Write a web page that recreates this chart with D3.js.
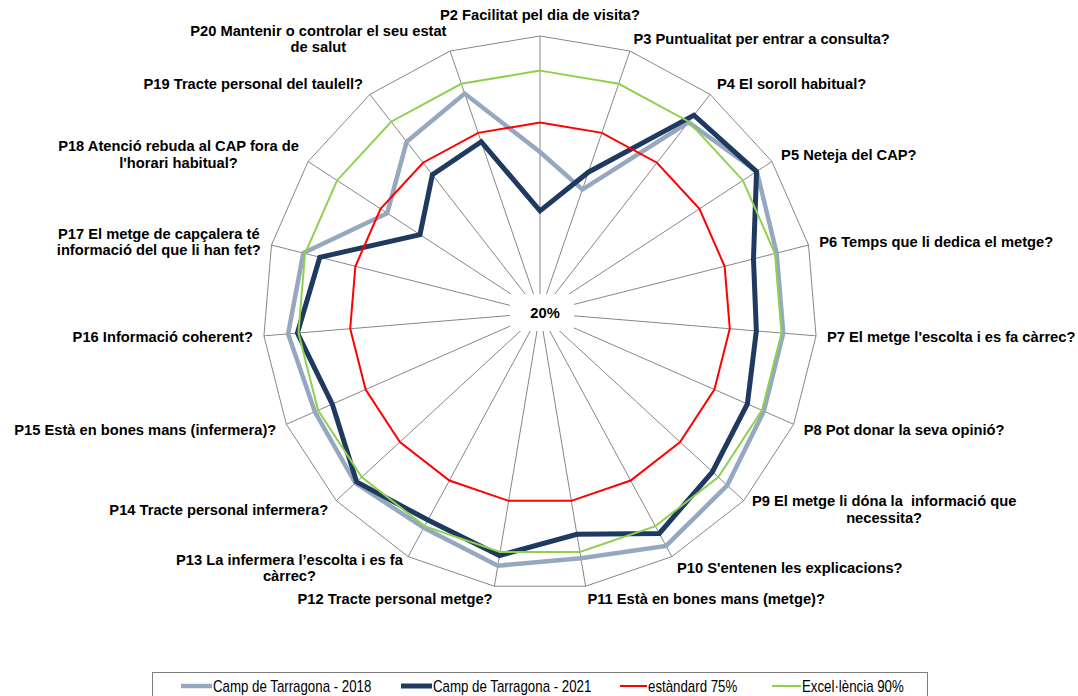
<!DOCTYPE html>
<html>
<head>
<meta charset="utf-8">
<script src="https://cdn.jsdelivr.net/npm/d3@7"></script>
<style>
  html, body { margin: 0; padding: 0; background: #ffffff; }
  svg { display: block; }
  .axis-label { font-family: "Liberation Sans", Arial, sans-serif; font-weight: bold; font-size: 14.7px; fill: #000; white-space: pre; }
  .legend-text { font-family: "Liberation Sans", Arial, sans-serif; font-size: 16px; fill: #000; }
</style>
</head>
<body>
<svg id="chart" width="1078" height="696"></svg>
<script>
// Survey questions (one spoke each), wrapped as drawn
const questions = [
  ["P2 Facilitat pel dia de visita?"],
  ["P3 Puntualitat per entrar a consulta?"],
  ["P4 El soroll habitual?"],
  ["P5 Neteja del CAP?"],
  ["P6 Temps que li dedica el metge?"],
  ["P7 El metge l'escolta i es fa càrrec?"],
  ["P8 Pot donar la seva opinió?"],
  ["P9 El metge li dóna la  informació que", "necessita?"],
  ["P10 S'entenen les explicacions?"],
  ["P11 Està en bones mans (metge)?"],
  ["P12 Tracte personal metge?"],
  ["P13 La infermera l\u2019escolta i es fa", "càrrec?"],
  ["P14 Tracte personal infermera?"],
  ["P15 Està en bones mans (infermera)?"],
  ["P16 Informació coherent?"],
  ["P17 El metge de capçalera té", "informació del que li han fet?"],
  ["P18 Atenció rebuda al CAP fora de", "l'horari habitual?"],
  ["P19 Tracte personal del taulell?"],
  ["P20 Mantenir o controlar el seu estat", "de salut"]
];

// Percentage of satisfied answers per question
const camp2018 = [66.5, 57.7, 89.8, 94.8, 90.5, 90.5, 90.6, 93.5, 96.5, 91.8, 94.0, 90.5, 92.5, 91.0, 93.0, 90.5, 72.7, 82.7, 87.0];
const camp2021 = [49.5, 63.0, 92.4, 94.7, 83.6, 82.7, 85.4, 87.7, 92.4, 84.8, 91.0, 88.0, 92.0, 85.5, 90.3, 85.6, 61.4, 70.6, 72.3];
const standard75 = [75, 75, 75, 75, 75, 75, 75, 75, 75, 75, 75, 75, 75, 75, 75, 75, 75, 75, 75];
const excellence90 = [90, 90, 90, 90, 90, 90, 90, 90, 90, 90, 90, 90, 90, 90, 90, 90, 90, 90, 90];

// Radial axis range and its label
const radialDomain = [20, 100];
const radialTickLabel = "20%";

// Legend entries
const seriesNames = ["Camp de Tarragona - 2018", "Camp de Tarragona - 2021", "estàndard 75%", "Excel·lència 90%"];

const seriesList = [
  { name: seriesNames[0], values: camp2018, color: "#95a8bf", width: 4.5 },
  { name: seriesNames[1], values: camp2021, color: "#1f3a60", width: 5 },
  { name: seriesNames[2], values: standard75, color: "#ff0000", width: 2 },
  { name: seriesNames[3], values: excellence90, color: "#8fd14f", width: 2 }
];

const svg = d3.select("#chart");
const cx = 540, cy = 313, R = 277;
const n = questions.length;

const r = d3.scaleLinear().domain(radialDomain).range([0, R]);
const angle = d3.scaleLinear().domain([0, n]).range([0, 2 * Math.PI]);

const g = svg.append("g").attr("transform", `translate(${cx},${cy})`);

const pointAt = (i, radius) => [radius * Math.sin(angle(i)), -radius * Math.cos(angle(i))];

// Spokes
g.append("g").selectAll("line")
  .data(questions)
  .join("line")
  .attr("x1", 0).attr("y1", 0)
  .attr("x2", (d, i) => pointAt(i, R)[0])
  .attr("y2", (d, i) => pointAt(i, R)[1])
  .attr("stroke", "#878787")
  .attr("stroke-width", 1);

// Outer ring
const radial = d3.lineRadial()
  .angle((d, i) => angle(i))
  .radius(d => r(d))
  .curve(d3.curveLinearClosed);

g.append("path")
  .attr("d", radial(questions.map(() => radialDomain[1])))
  .attr("fill", "none")
  .attr("stroke", "#878787")
  .attr("stroke-width", 1);

// Series lines
g.append("g").selectAll("path")
  .data(seriesList)
  .join("path")
  .attr("d", s => radial(s.values))
  .attr("fill", "none")
  .attr("stroke", s => s.color)
  .attr("stroke-width", s => s.width)
  .attr("stroke-linejoin", "miter");

// Centre tick label on a white box
g.append("rect")
  .attr("x", -30).attr("y", -19).attr("width", 64).attr("height", 37)
  .attr("fill", "#ffffff");
g.append("text")
  .attr("class", "axis-label")
  .attr("x", 5).attr("y", 0)
  .attr("dy", "0.35em")
  .attr("text-anchor", "middle")
  .text(radialTickLabel);

// Question labels around the ring
const lineH = 16.5;
const labels = g.append("g");
questions.forEach((lines, i) => {
  const a = angle(i);
  const s = Math.sin(a), c = Math.cos(a);
  const [vx, vy] = pointAt(i, R);
  const ax = vx + 11 * s;
  let ay = vy - 13 * c;
  const side = Math.abs(s) < 0.05 ? "middle" : (s > 0 ? "start" : "end");
  const blockH = lines.length * lineH;
  if (side === "middle") ay = vy - 13 - blockH / 2;
  const grp = labels.append("g");
  const texts = lines.map((t, k) => grp.append("text")
    .attr("class", "axis-label")
    .attr("text-anchor", "middle")
    .attr("y", ay - (lines.length - 1) * lineH / 2 + k * lineH)
    .attr("dy", "0.35em")
    .text(t));
  const w = d3.max(texts, t => t.node().getComputedTextLength());
  const mid = side === "middle" ? ax : (side === "start" ? ax + w / 2 : ax - w / 2);
  texts.forEach(t => t.attr("x", mid));
});

// Legend (condensed text)
const legend = svg.append("g");
legend.append("rect")
  .attr("x", 152.5).attr("y", 672.5).attr("width", 775).attr("height", 30)
  .attr("fill", "#ffffff")
  .attr("stroke", "#7f7f7f")
  .attr("stroke-width", 1);

const legendX = d3.scaleOrdinal().domain(seriesNames).range([181, 401, 620, 772]);
const swatchW = [31, 31, 27, 29];
const narrow = 0.83;
seriesList.forEach((s, i) => {
  const x0 = legendX(s.name);
  legend.append("line")
    .attr("x1", x0).attr("x2", x0 + swatchW[i])
    .attr("y1", 686).attr("y2", 686)
    .attr("stroke", s.color)
    .attr("stroke-width", s.width);
  legend.append("g")
    .attr("transform", `translate(${x0 + swatchW[i] + 1},686) scale(${narrow},1)`)
    .append("text")
    .attr("class", "legend-text")
    .attr("x", 0).attr("y", 0)
    .attr("dy", "0.35em")
    .text(s.name);
});
</script>
</body>
</html>
